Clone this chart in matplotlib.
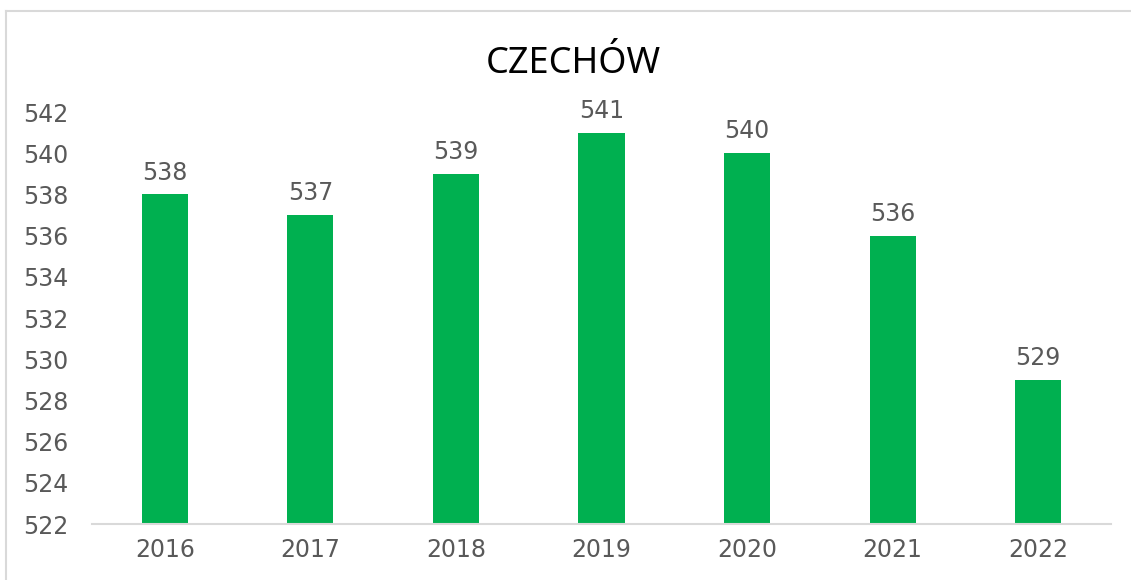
import matplotlib
matplotlib.use("Agg")
import matplotlib.pyplot as plt
from matplotlib.lines import Line2D

years = ["2016", "2017", "2018", "2019", "2020", "2021", "2022"]
values = [538, 537, 539, 541, 540, 536, 529]
y_ticks = list(range(522, 543, 2))

bar_color = "#00B050"
text_color = "#595959"
line_color = "#D9D9D9"

fig = plt.figure(figsize=(11.31, 5.8), dpi=100)
ax = fig.add_axes([92 / 1131, 56 / 580, 1019 / 1131, 412 / 580])

x = range(len(years))
bars = ax.bar(x, values, width=0.316, color=bar_color, bottom=0)
ax.set_xlim(-0.5, len(years) - 0.5)
ax.set_ylim(522, 542)
ax.set_yticks(y_ticks)
ax.set_xticks(list(x))
ax.set_xticklabels(years)

for spine in ["top", "right", "left"]:
    ax.spines[spine].set_visible(False)
ax.spines["bottom"].set_color(line_color)
ax.spines["bottom"].set_linewidth(1.5)
ax.tick_params(axis="both", length=0, labelsize=17, labelcolor=text_color,
               colors=text_color)
ax.tick_params(axis="y", pad=17)
ax.tick_params(axis="x", pad=10)

for xi, v in zip(x, values):
    ax.annotate(str(v), (xi, v), xytext=(0, 7), textcoords="offset points",
                ha="center", va="bottom", fontsize=17, color=text_color)

fig.text(573 / 1131, 1 - 73 / 580, "CZECHÓW", ha="center", va="baseline",
         fontsize=26, color="black", family="Noto Sans")

# outer chart border (only top and left visible in the crop)
fig.add_artist(Line2D([6 / 1131, 1], [1 - 11 / 580] * 2, color=line_color,
                      linewidth=1.5, transform=fig.transFigure))
fig.add_artist(Line2D([6 / 1131] * 2, [0, 1 - 11 / 580], color=line_color,
                      linewidth=1.5, transform=fig.transFigure))

fig.savefig("out.png", dpi=100)
